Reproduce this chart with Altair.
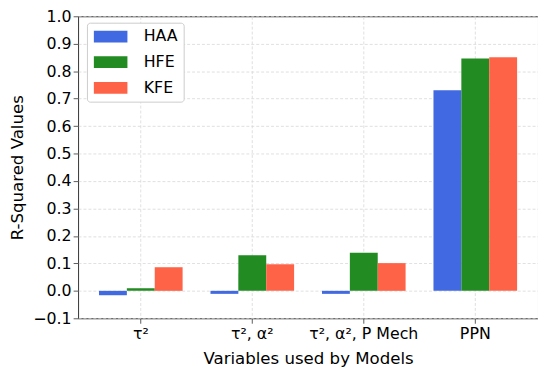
import altair as alt
import pandas as pd

categories = ["τ²", "τ², α²", "τ², α², P Mech", "PPN"]
series = ["HAA", "HFE", "KFE"]
haa = [-0.016, -0.011, -0.011, 0.731]
hfe = [0.009, 0.130, 0.139, 0.846]
kfe = [0.086, 0.097, 0.101, 0.851]
colors = ["#4169E1", "#228B22", "#FF6347"]
y_ticks = [-0.1, 0.0, 0.1, 0.2, 0.3, 0.4, 0.5, 0.6, 0.7, 0.8, 0.9, 1.0]

rows = []
for name, vals in zip(series, [haa, hfe, kfe]):
    for cat, v in zip(categories, vals):
        rows.append({"model": cat, "series": name, "value": v})
df = pd.DataFrame(rows)

FONT = "DejaVu Sans"

chart = alt.Chart(df).mark_bar().encode(
    x=alt.X(
        "model:N",
        sort=categories,
        scale=alt.Scale(paddingInner=0.25, paddingOuter=0.1875),
        axis=alt.Axis(
            title="Variables used by Models",
            labelAngle=0,
            bandPosition=0.5,
            labelPadding=2,
            titleY=46,
            titleBaseline="alphabetic",
            labelLimit=300,
        ),
    ),
    xOffset=alt.XOffset("series:N", sort=series, scale=alt.Scale(paddingInner=0, paddingOuter=0)),
    y=alt.Y(
        "value:Q",
        scale=alt.Scale(domain=[-0.1, 1.0], nice=False, zero=True),
        axis=alt.Axis(
            title="R-Squared Values",
            values=y_ticks,
            format=".1f",
            labelPadding=2,
            titleX=-61,
            titleY=153,
            titleBaseline="middle",
        ),
    ),
    color=alt.Color(
        "series:N",
        sort=series,
        scale=alt.Scale(domain=series, range=colors),
        legend=alt.Legend(
            title=None,
            orient="none",
            legendX=9,
            legendY=6.5,
            symbolType="M-2,-0.7L2,-0.7L2,0.7L-2,0.7Z",
            symbolSize=289,
            symbolStrokeWidth=0,
            symbolOpacity=1,
            symbolOffset=10,
            labelOffset=25,
            labelFontSize=16,
            labelFont=FONT,
            labelColor="black",
            rowPadding=9,
            padding=5.5,
            fillColor="white",
            strokeColor="#cccccc",
            cornerRadius=3,
        ),
    ),
).properties(
    width=466,
    height=306,
    autosize=alt.AutoSizeParams(type="none"),
    padding={"left": 71, "top": 6, "right": 0, "bottom": 50},
).configure_view(
    stroke="#333333", strokeWidth=1
).configure_axis(
    labelFont=FONT,
    titleFont=FONT,
    labelFontSize=16,
    titleFontSize=16.8,
    titleFontWeight="normal",
    labelColor="black",
    titleColor="black",
    domain=False,
    tickColor="#333333",
    tickSize=5,
    tickWidth=0.8,
    grid=True,
    gridColor="#d8d8d8",
    gridDash=[3, 2],
    gridWidth=0.8,
)

chart.save("out.html", embed_options={"renderer": "svg", "actions": False})
